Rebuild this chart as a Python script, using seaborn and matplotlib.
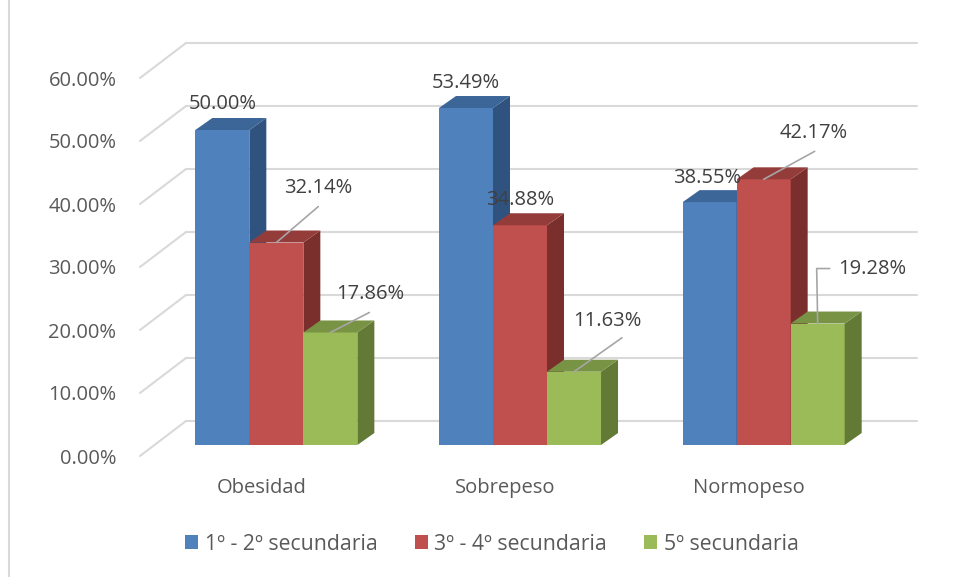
import warnings
warnings.filterwarnings("ignore")
import matplotlib
matplotlib.use("Agg")
import matplotlib.pyplot as plt
import matplotlib.transforms as mtransforms
from matplotlib.patches import Polygon, Patch
from matplotlib.lines import Line2D
import matplotlib.ticker as mticker
import pandas as pd
import seaborn as sns

# data
categorias = ["Obesidad", "Sobrepeso", "Normopeso"]
grupos = ["1º - 2º secundaria", "3º - 4º secundaria", "5º secundaria"]
sec_1_2 = [50.00, 53.49, 38.55]
sec_3_4 = [32.14, 34.88, 42.17]
sec_5 = [17.86, 11.63, 19.28]

# styles
front_cols = ["#4F81BD", "#C0504D", "#9BBB59"]
top_cols = ["#3D6698", "#943C3A", "#789344"]
side_cols = ["#30527F", "#7B2F2D", "#637936"]
GRID = "#D9D9D9"
FS = 14.5

# label offsets (px, from bar top) and leader style, in bar order left->right
lab_off = [(0, 26), (42, 55), (40, 38),
           (0, 25), (0, 25), (33, 51),
           (-3, 24), (50, 46), (55, 55)]
leader = [None, (0, -19), (-1, -18),
          None, None, (15, -17),
          None, (1, -18), "elbow"]

df = pd.DataFrame({
    "categoria": categorias * 3,
    "grupo": [g for g in grupos for _ in categorias],
    "valor": sec_1_2 + sec_3_4 + sec_5,
})

sns.set_style("white")
plt.rcParams["font.family"] = ["Open Sans", "DejaVu Sans"]

W, H = 957, 577
fig = plt.figure(figsize=(W / 100, H / 100), dpi=100)
ax = fig.add_axes([140 / W, 121 / H, 731 / W, 378 / H])

sns.barplot(data=df, x="categoria", y="valor", hue="grupo", palette=front_cols,
            width=0.665, saturation=1, edgecolor="none", linewidth=0,
            legend=False, ax=ax)
ax.set_xlim(-0.5, 2.5)
ax.set_ylim(0, 60)
ax.set_yticks(range(0, 61, 10))
ax.yaxis.set_major_formatter(mticker.FuncFormatter(lambda v, p: f"{v:.2f}%"))
ax.tick_params(axis="y", length=0, pad=17, labelsize=FS, labelcolor="#595959")
ax.tick_params(axis="x", length=0, pad=16, labelsize=FS, labelcolor="#595959")
ax.set_xlabel("")
ax.set_ylabel("")
for s in ax.spines.values():
    s.set_visible(False)
ax.grid(False)
ax.patch.set_alpha(0)

ident = mtransforms.IdentityTransform()
BDX, BDY = 46, 35      # floor depth (back wall offset)
SX, SY = 14.5, 11      # bar plane offset
DX, DY = 17, 12        # bar depth

# 3d-ish wall grid
xl = ax.transData.transform((-0.5, 0))[0]
xr = ax.transData.transform((2.5, 0))[0]
for t in range(0, 61, 10):
    yt = ax.transData.transform((0, t))[1]
    ax.add_line(Line2D([xl, xl + BDX], [yt, yt + BDY], color=GRID, lw=1.5,
                       transform=ident, clip_on=False, zorder=0.5))
    ax.add_line(Line2D([xl + BDX, xr + BDX], [yt + BDY, yt + BDY], color=GRID,
                       lw=1.5, transform=ident, clip_on=False, zorder=0.5))

# bars: shift and add side/top faces
bars = sorted(ax.patches, key=lambda p: p.get_x())
off = mtransforms.ScaledTranslation(SX / 100, SY / 100, fig.dpi_scale_trans)
vals = []
for i, p in enumerate(bars):
    ci = i % 3
    p.set_transform(ax.transData + off)
    p.set_clip_on(False)
    z = 2 + i
    p.set_zorder(z)
    x0, y0 = ax.transData.transform((p.get_x(), 0))
    x1, y1 = ax.transData.transform((p.get_x() + p.get_width(), p.get_height()))
    x0 += SX; x1 += SX; y0 += SY; y1 += SY
    side = Polygon([(x1, y0), (x1 + DX, y0 + DY), (x1 + DX, y1 + DY), (x1, y1)],
                   closed=True, facecolor=side_cols[ci], edgecolor="none",
                   transform=ident, clip_on=False, zorder=z)
    top = Polygon([(x0, y1), (x1, y1), (x1 + DX, y1 + DY), (x0 + DX, y1 + DY)],
                  closed=True, facecolor=top_cols[ci], edgecolor="none",
                  transform=ident, clip_on=False, zorder=z)
    ax.add_patch(side)
    ax.add_patch(top)
    vals.append(((x0 + x1) / 2, y1, p.get_height()))

# data labels
for i, (cx, cy, v) in enumerate(vals):
    lx, ly = cx + lab_off[i][0], cy + lab_off[i][1]
    ax.text(lx, ly, f"{v:.2f}%", transform=ident, ha="center", va="center",
            fontsize=FS, color="#404040", zorder=20)
    ld = leader[i]
    if ld == "elbow":
        xs = [lx - 43, cx - 1, cx]
        ys = [ly, ly, cy]
    elif ld is not None:
        xs = [lx + ld[0], cx]
        ys = [ly + ld[1], cy]
    else:
        continue
    ax.add_line(Line2D(xs, ys, color="#A6A6A6", lw=1.2, transform=ident,
                       clip_on=False, zorder=19))

# legend
handles = [Patch(facecolor=c, edgecolor="none") for c in front_cols]
fig.legend(handles, grupos, loc="center", bbox_to_anchor=(492 / W, 33 / H),
           ncol=3, frameon=False, fontsize=15.3, handlelength=0.62,
           handleheight=0.62, handletextpad=0.3, columnspacing=1.75,
           labelcolor="#595959")

# chart border (left edge visible)
fig.add_artist(Line2D([8.5 / W, 8.5 / W], [0, 1], color=GRID, lw=1.5,
                      transform=fig.transFigure))

fig.savefig("out.png", dpi=100)
